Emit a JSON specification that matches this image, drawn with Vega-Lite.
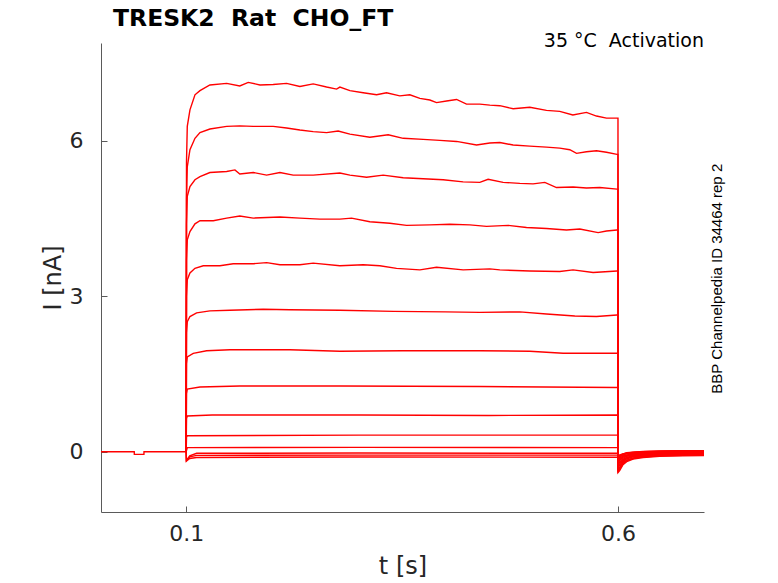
{
"$schema":"https://vega.github.io/schema/vega-lite/v6.json",
"width":603,"height":469,
"autosize":{"type":"none"},
"padding":{"left":101,"top":43,"right":74,"bottom":71},
"background":"white",
"title":{"text":"TRESK2 \u00a0Rat \u00a0CHO_FT","anchor":"start","frame":"group","dx":12,"dy":24,"offset":6,"baseline":"alphabetic","fontSize":23.5,"fontWeight":"bold","font":"DejaVu Sans","color":"black"},
"config":{"view":{"stroke":null},"font":"DejaVu Sans","axis":{"grid":false,"domainColor":"#5a5a5a","tickColor":"#5a5a5a","labelColor":"#262626","titleColor":"#262626","labelFont":"DejaVu Sans","titleFont":"DejaVu Sans","labelFontSize":22,"titleFontSize":24,"titleFontWeight":"normal","tickSize":-6,"domainWidth":1,"tickWidth":1}},
"data":{"values":[
{"s":0,"t":0.0013,"I":0},{"s":0,"t":0.0398,"I":0},{"s":0,"t":0.0399,"I":-0.05},{"s":0,"t":0.051,"I":-0.05},{"s":0,"t":0.0511,"I":0},{"s":0,"t":0.0999,"I":0},
{"s":1,"t":0.0999,"I":0},{"s":1,"t":0.1003,"I":5.6},{"s":1,"t":0.1012,"I":6.28},{"s":1,"t":0.1043,"I":6.6},{"s":1,"t":0.1101,"I":6.89},{"s":1,"t":0.1159,"I":6.97},{"s":1,"t":0.1274,"I":7.08},{"s":1,"t":0.1468,"I":7.11},{"s":1,"t":0.162,"I":7.06},{"s":1,"t":0.1718,"I":7.13},{"s":1,"t":0.1854,"I":7.08},{"s":1,"t":0.2007,"I":7.09},{"s":1,"t":0.2162,"I":7.11},{"s":1,"t":0.2316,"I":7.05},{"s":1,"t":0.247,"I":7.1},{"s":1,"t":0.2625,"I":7.04},{"s":1,"t":0.2741,"I":7.0},{"s":1,"t":0.2779,"I":7.04},{"s":1,"t":0.2895,"I":6.97},{"s":1,"t":0.3049,"I":6.93},{"s":1,"t":0.3204,"I":6.89},{"s":1,"t":0.3319,"I":6.93},{"s":1,"t":0.3473,"I":6.87},{"s":1,"t":0.3589,"I":6.89},{"s":1,"t":0.3705,"I":6.82},{"s":1,"t":0.3821,"I":6.79},{"s":1,"t":0.3898,"I":6.74},{"s":1,"t":0.4014,"I":6.77},{"s":1,"t":0.413,"I":6.8},{"s":1,"t":0.4245,"I":6.71},{"s":1,"t":0.4399,"I":6.71},{"s":1,"t":0.4515,"I":6.69},{"s":1,"t":0.4631,"I":6.68},{"s":1,"t":0.4785,"I":6.62},{"s":1,"t":0.4978,"I":6.65},{"s":1,"t":0.5171,"I":6.59},{"s":1,"t":0.5325,"I":6.57},{"s":1,"t":0.5476,"I":6.5},{"s":1,"t":0.5634,"I":6.55},{"s":1,"t":0.575,"I":6.48},{"s":1,"t":0.5866,"I":6.44},{"s":1,"t":0.5988,"I":6.44},{"s":1,"t":0.5999,"I":6.44},
{"s":1,"t":0.6,"I":-0.4},{"s":1,"t":0.602,"I":-0.36},{"s":1,"t":0.6057,"I":-0.25},{"s":1,"t":0.61,"I":-0.19},{"s":1,"t":0.6174,"I":-0.14},{"s":1,"t":0.629,"I":-0.11},{"s":1,"t":0.648,"I":-0.09},{"s":1,"t":0.675,"I":-0.08},{"s":1,"t":0.6995,"I":-0.075},
{"s":2,"t":0.0999,"I":0},{"s":2,"t":0.1003,"I":4.9},{"s":2,"t":0.1012,"I":5.5},{"s":2,"t":0.1043,"I":5.83},{"s":2,"t":0.1101,"I":6.05},{"s":2,"t":0.1159,"I":6.16},{"s":2,"t":0.1274,"I":6.23},{"s":2,"t":0.1468,"I":6.28},{"s":2,"t":0.162,"I":6.29},{"s":2,"t":0.1776,"I":6.28},{"s":2,"t":0.2007,"I":6.28},{"s":2,"t":0.2162,"I":6.25},{"s":2,"t":0.2316,"I":6.21},{"s":2,"t":0.247,"I":6.18},{"s":2,"t":0.2625,"I":6.16},{"s":2,"t":0.2759,"I":6.19},{"s":2,"t":0.2895,"I":6.13},{"s":2,"t":0.3126,"I":6.07},{"s":2,"t":0.3338,"I":6.12},{"s":2,"t":0.3512,"I":6.05},{"s":2,"t":0.3743,"I":6.03},{"s":2,"t":0.3936,"I":6.01},{"s":2,"t":0.413,"I":5.99},{"s":2,"t":0.4361,"I":5.92},{"s":2,"t":0.4515,"I":5.96},{"s":2,"t":0.4631,"I":5.97},{"s":2,"t":0.4785,"I":5.92},{"s":2,"t":0.4978,"I":5.9},{"s":2,"t":0.5171,"I":5.88},{"s":2,"t":0.5325,"I":5.86},{"s":2,"t":0.5441,"I":5.83},{"s":2,"t":0.5519,"I":5.76},{"s":2,"t":0.5634,"I":5.79},{"s":2,"t":0.575,"I":5.81},{"s":2,"t":0.5866,"I":5.78},{"s":2,"t":0.5988,"I":5.74},{"s":2,"t":0.5999,"I":5.74},
{"s":2,"t":0.6,"I":-0.38},{"s":2,"t":0.602,"I":-0.33},{"s":2,"t":0.6057,"I":-0.23},{"s":2,"t":0.61,"I":-0.17},{"s":2,"t":0.6174,"I":-0.13},{"s":2,"t":0.629,"I":-0.1},{"s":2,"t":0.648,"I":-0.08},{"s":2,"t":0.675,"I":-0.07},{"s":2,"t":0.6995,"I":-0.065},
{"s":3,"t":0.0999,"I":0},{"s":3,"t":0.1003,"I":4.4},{"s":3,"t":0.1012,"I":4.93},{"s":3,"t":0.1043,"I":5.12},{"s":3,"t":0.1101,"I":5.25},{"s":3,"t":0.1159,"I":5.31},{"s":3,"t":0.1274,"I":5.39},{"s":3,"t":0.1468,"I":5.41},{"s":3,"t":0.1564,"I":5.44},{"s":3,"t":0.162,"I":5.36},{"s":3,"t":0.1776,"I":5.39},{"s":3,"t":0.1931,"I":5.34},{"s":3,"t":0.2085,"I":5.39},{"s":3,"t":0.2238,"I":5.34},{"s":3,"t":0.247,"I":5.34},{"s":3,"t":0.2779,"I":5.38},{"s":3,"t":0.2895,"I":5.34},{"s":3,"t":0.3088,"I":5.3},{"s":3,"t":0.328,"I":5.34},{"s":3,"t":0.3512,"I":5.29},{"s":3,"t":0.3743,"I":5.27},{"s":3,"t":0.3975,"I":5.25},{"s":3,"t":0.4206,"I":5.21},{"s":3,"t":0.4399,"I":5.2},{"s":3,"t":0.4495,"I":5.26},{"s":3,"t":0.4669,"I":5.2},{"s":3,"t":0.4862,"I":5.18},{"s":3,"t":0.5016,"I":5.17},{"s":3,"t":0.5152,"I":5.2},{"s":3,"t":0.5287,"I":5.1},{"s":3,"t":0.5479,"I":5.11},{"s":3,"t":0.5634,"I":5.09},{"s":3,"t":0.5788,"I":5.1},{"s":3,"t":0.5988,"I":5.07},{"s":3,"t":0.5999,"I":5.07},
{"s":3,"t":0.6,"I":-0.36},{"s":3,"t":0.602,"I":-0.31},{"s":3,"t":0.6057,"I":-0.21},{"s":3,"t":0.61,"I":-0.16},{"s":3,"t":0.6174,"I":-0.12},{"s":3,"t":0.629,"I":-0.09},{"s":3,"t":0.648,"I":-0.07},{"s":3,"t":0.675,"I":-0.06},{"s":3,"t":0.6995,"I":-0.055},
{"s":4,"t":0.0999,"I":0},{"s":4,"t":0.1003,"I":3.7},{"s":4,"t":0.1012,"I":4.09},{"s":4,"t":0.1043,"I":4.25},{"s":4,"t":0.1101,"I":4.4},{"s":4,"t":0.1159,"I":4.46},{"s":4,"t":0.1313,"I":4.46},{"s":4,"t":0.1468,"I":4.51},{"s":4,"t":0.162,"I":4.55},{"s":4,"t":0.1776,"I":4.51},{"s":4,"t":0.2085,"I":4.53},{"s":4,"t":0.2316,"I":4.51},{"s":4,"t":0.2548,"I":4.49},{"s":4,"t":0.2779,"I":4.49},{"s":4,"t":0.2914,"I":4.51},{"s":4,"t":0.3126,"I":4.44},{"s":4,"t":0.3358,"I":4.41},{"s":4,"t":0.3551,"I":4.37},{"s":4,"t":0.3821,"I":4.38},{"s":4,"t":0.4052,"I":4.39},{"s":4,"t":0.4284,"I":4.38},{"s":4,"t":0.4477,"I":4.35},{"s":4,"t":0.4727,"I":4.37},{"s":4,"t":0.494,"I":4.33},{"s":4,"t":0.5171,"I":4.31},{"s":4,"t":0.5403,"I":4.28},{"s":4,"t":0.5557,"I":4.3},{"s":4,"t":0.5769,"I":4.23},{"s":4,"t":0.5866,"I":4.26},{"s":4,"t":0.5988,"I":4.28},{"s":4,"t":0.5999,"I":4.28},
{"s":4,"t":0.6,"I":-0.34},{"s":4,"t":0.602,"I":-0.29},{"s":4,"t":0.6057,"I":-0.19},{"s":4,"t":0.61,"I":-0.14},{"s":4,"t":0.6174,"I":-0.1},{"s":4,"t":0.629,"I":-0.08},{"s":4,"t":0.648,"I":-0.06},{"s":4,"t":0.675,"I":-0.05},{"s":4,"t":0.6995,"I":-0.045},
{"s":5,"t":0.0999,"I":0},{"s":5,"t":0.1003,"I":3.0},{"s":5,"t":0.1012,"I":3.32},{"s":5,"t":0.1043,"I":3.45},{"s":5,"t":0.1101,"I":3.54},{"s":5,"t":0.1197,"I":3.59},{"s":5,"t":0.139,"I":3.59},{"s":5,"t":0.1544,"I":3.63},{"s":5,"t":0.1776,"I":3.63},{"s":5,"t":0.1931,"I":3.65},{"s":5,"t":0.2085,"I":3.61},{"s":5,"t":0.2316,"I":3.61},{"s":5,"t":0.247,"I":3.64},{"s":5,"t":0.2779,"I":3.59},{"s":5,"t":0.3049,"I":3.61},{"s":5,"t":0.3242,"I":3.59},{"s":5,"t":0.3435,"I":3.54},{"s":5,"t":0.3705,"I":3.51},{"s":5,"t":0.3898,"I":3.56},{"s":5,"t":0.4206,"I":3.51},{"s":5,"t":0.4515,"I":3.53},{"s":5,"t":0.4631,"I":3.51},{"s":5,"t":0.4978,"I":3.49},{"s":5,"t":0.5325,"I":3.48},{"s":5,"t":0.5479,"I":3.51},{"s":5,"t":0.5711,"I":3.46},{"s":5,"t":0.5988,"I":3.49},{"s":5,"t":0.5999,"I":3.49},
{"s":5,"t":0.6,"I":-0.31},{"s":5,"t":0.602,"I":-0.26},{"s":5,"t":0.6057,"I":-0.17},{"s":5,"t":0.61,"I":-0.12},{"s":5,"t":0.6174,"I":-0.09},{"s":5,"t":0.629,"I":-0.07},{"s":5,"t":0.648,"I":-0.05},{"s":5,"t":0.675,"I":-0.04},{"s":5,"t":0.6995,"I":-0.035},
{"s":6,"t":0.0999,"I":0},{"s":6,"t":0.1003,"I":2.3},{"s":6,"t":0.1012,"I":2.51},{"s":6,"t":0.1043,"I":2.61},{"s":6,"t":0.112,"I":2.68},{"s":6,"t":0.1274,"I":2.72},{"s":6,"t":0.1506,"I":2.73},{"s":6,"t":0.1891,"I":2.75},{"s":6,"t":0.22,"I":2.74},{"s":6,"t":0.2779,"I":2.73},{"s":6,"t":0.34,"I":2.71},{"s":6,"t":0.4,"I":2.7},{"s":6,"t":0.4399,"I":2.69},{"s":6,"t":0.4862,"I":2.7},{"s":6,"t":0.5171,"I":2.66},{"s":6,"t":0.5499,"I":2.62},{"s":6,"t":0.575,"I":2.61},{"s":6,"t":0.5988,"I":2.64},{"s":6,"t":0.5999,"I":2.64},
{"s":6,"t":0.6,"I":-0.28},{"s":6,"t":0.602,"I":-0.23},{"s":6,"t":0.6057,"I":-0.15},{"s":6,"t":0.61,"I":-0.11},{"s":6,"t":0.6174,"I":-0.08},{"s":6,"t":0.629,"I":-0.06},{"s":6,"t":0.648,"I":-0.04},{"s":6,"t":0.675,"I":-0.03},{"s":6,"t":0.6995,"I":-0.025},
{"s":7,"t":0.0999,"I":0},{"s":7,"t":0.1003,"I":1.7},{"s":7,"t":0.1012,"I":1.83},{"s":7,"t":0.1081,"I":1.9},{"s":7,"t":0.1236,"I":1.95},{"s":7,"t":0.1506,"I":1.97},{"s":7,"t":0.22,"I":1.97},{"s":7,"t":0.2779,"I":1.94},{"s":7,"t":0.35,"I":1.95},{"s":7,"t":0.4399,"I":1.95},{"s":7,"t":0.4978,"I":1.94},{"s":7,"t":0.5364,"I":1.9},{"s":7,"t":0.5988,"I":1.9},{"s":7,"t":0.5999,"I":1.9},
{"s":7,"t":0.6,"I":-0.25},{"s":7,"t":0.602,"I":-0.2},{"s":7,"t":0.6057,"I":-0.13},{"s":7,"t":0.61,"I":-0.09},{"s":7,"t":0.6174,"I":-0.07},{"s":7,"t":0.629,"I":-0.05},{"s":7,"t":0.648,"I":-0.03},{"s":7,"t":0.675,"I":-0.02},{"s":7,"t":0.6995,"I":-0.015},
{"s":8,"t":0.0999,"I":0},{"s":8,"t":0.1003,"I":1.12},{"s":8,"t":0.1012,"I":1.21},{"s":8,"t":0.1159,"I":1.25},{"s":8,"t":0.162,"I":1.27},{"s":8,"t":0.278,"I":1.27},{"s":8,"t":0.44,"I":1.26},{"s":8,"t":0.5988,"I":1.24},{"s":8,"t":0.5999,"I":1.24},
{"s":8,"t":0.6,"I":-0.22},{"s":8,"t":0.602,"I":-0.17},{"s":8,"t":0.6057,"I":-0.11},{"s":8,"t":0.61,"I":-0.08},{"s":8,"t":0.6174,"I":-0.06},{"s":8,"t":0.629,"I":-0.04},{"s":8,"t":0.648,"I":-0.02},{"s":8,"t":0.675,"I":-0.01},{"s":8,"t":0.6995,"I":-0.005},
{"s":9,"t":0.0999,"I":0},{"s":9,"t":0.1003,"I":0.64},{"s":9,"t":0.1012,"I":0.69},{"s":9,"t":0.13,"I":0.71},{"s":9,"t":0.3,"I":0.71},{"s":9,"t":0.45,"I":0.7},{"s":9,"t":0.5999,"I":0.71},
{"s":9,"t":0.6,"I":-0.19},{"s":9,"t":0.602,"I":-0.15},{"s":9,"t":0.6057,"I":-0.09},{"s":9,"t":0.61,"I":-0.07},{"s":9,"t":0.6174,"I":-0.05},{"s":9,"t":0.629,"I":-0.03},{"s":9,"t":0.648,"I":-0.01},{"s":9,"t":0.675,"I":0.0},{"s":9,"t":0.6995,"I":0.005},
{"s":10,"t":0.0999,"I":0},{"s":10,"t":0.1003,"I":0.28},{"s":10,"t":0.1012,"I":0.31},{"s":10,"t":0.3,"I":0.32},{"s":10,"t":0.5999,"I":0.32},
{"s":10,"t":0.6,"I":-0.16},{"s":10,"t":0.602,"I":-0.12},{"s":10,"t":0.6057,"I":-0.08},{"s":10,"t":0.61,"I":-0.06},{"s":10,"t":0.6174,"I":-0.04},{"s":10,"t":0.629,"I":-0.02},{"s":10,"t":0.648,"I":0.0},{"s":10,"t":0.675,"I":0.01},{"s":10,"t":0.6995,"I":0.01},
{"s":11,"t":0.0999,"I":0},{"s":11,"t":0.1012,"I":0.08},{"s":11,"t":0.3,"I":0.085},{"s":11,"t":0.5999,"I":0.08},
{"s":11,"t":0.6,"I":-0.13},{"s":11,"t":0.602,"I":-0.1},{"s":11,"t":0.6057,"I":-0.06},{"s":11,"t":0.61,"I":-0.04},{"s":11,"t":0.6174,"I":-0.03},{"s":11,"t":0.629,"I":-0.01},{"s":11,"t":0.648,"I":0.005},{"s":11,"t":0.675,"I":0.01},{"s":11,"t":0.6995,"I":0.015},
{"s":12,"t":0.0999,"I":0},{"s":12,"t":0.1002,"I":-0.17},{"s":12,"t":0.104,"I":-0.08},{"s":12,"t":0.112,"I":-0.03},{"s":12,"t":0.3,"I":-0.025},{"s":12,"t":0.5999,"I":-0.03},
{"s":12,"t":0.6,"I":-0.11},{"s":12,"t":0.602,"I":-0.08},{"s":12,"t":0.6057,"I":-0.05},{"s":12,"t":0.61,"I":-0.03},{"s":12,"t":0.6174,"I":-0.02},{"s":12,"t":0.629,"I":0.0},{"s":12,"t":0.648,"I":0.01},{"s":12,"t":0.675,"I":0.015},{"s":12,"t":0.6995,"I":0.02},
{"s":13,"t":0.0999,"I":0},{"s":13,"t":0.1002,"I":-0.16},{"s":13,"t":0.104,"I":-0.1},{"s":13,"t":0.112,"I":-0.07},{"s":13,"t":0.3,"I":-0.065},{"s":13,"t":0.5999,"I":-0.065},
{"s":13,"t":0.6,"I":-0.1},{"s":13,"t":0.602,"I":-0.07},{"s":13,"t":0.6057,"I":-0.04},{"s":13,"t":0.61,"I":-0.03},{"s":13,"t":0.6174,"I":-0.01},{"s":13,"t":0.629,"I":0.0},{"s":13,"t":0.648,"I":0.01},{"s":13,"t":0.675,"I":0.015},{"s":13,"t":0.6995,"I":0.02},
{"s":14,"t":0.0999,"I":0},{"s":14,"t":0.1002,"I":-0.18},{"s":14,"t":0.104,"I":-0.13},{"s":14,"t":0.112,"I":-0.11},{"s":14,"t":0.3,"I":-0.1},{"s":14,"t":0.5999,"I":-0.105},
{"s":14,"t":0.6,"I":-0.09},{"s":14,"t":0.602,"I":-0.06},{"s":14,"t":0.6057,"I":-0.04},{"s":14,"t":0.61,"I":-0.02},{"s":14,"t":0.6174,"I":-0.01},{"s":14,"t":0.629,"I":0.005},{"s":14,"t":0.648,"I":0.01},{"s":14,"t":0.675,"I":0.02},{"s":14,"t":0.6995,"I":0.02}
]},
"layer":[
{"mark":{"type":"line","color":"#ff0000","strokeWidth":1.4,"clip":true},
 "encoding":{
  "x":{"field":"t","type":"quantitative","scale":{"domain":[0.0013,0.6995],"nice":false,"zero":false},"axis":{"values":[0.1,0.6],"format":".1f","title":"t [s]","labelPadding":17,"titlePadding":10}},
  "y":{"field":"I","type":"quantitative","scale":{"domain":[-1.163,7.89],"nice":false,"zero":false},"axis":{"values":[0,3,6],"format":"d","title":"I [nA]","labelPadding":24,"titlePadding":4}},
  "detail":{"field":"s","type":"nominal"}
 }},
{"data":{"values":[{"label":"35 °C \u00a0Activation"}]},
 "mark":{"type":"text","align":"right","baseline":"middle","fontSize":19,"font":"DejaVu Sans","color":"black"},
 "encoding":{"x":{"datum":0.6995},"y":{"datum":7.93},"text":{"field":"label"}}},
{"data":{"values":[{"label":"BBP Channelpedia ID 34464 rep 2"}]},
 "mark":{"type":"text","align":"center","baseline":"middle","angle":270,"fontSize":15,"font":"Liberation Sans","color":"black"},
 "encoding":{"x":{"datum":0.7148},"y":{"datum":3.34},"text":{"field":"label"}}}
]
}
